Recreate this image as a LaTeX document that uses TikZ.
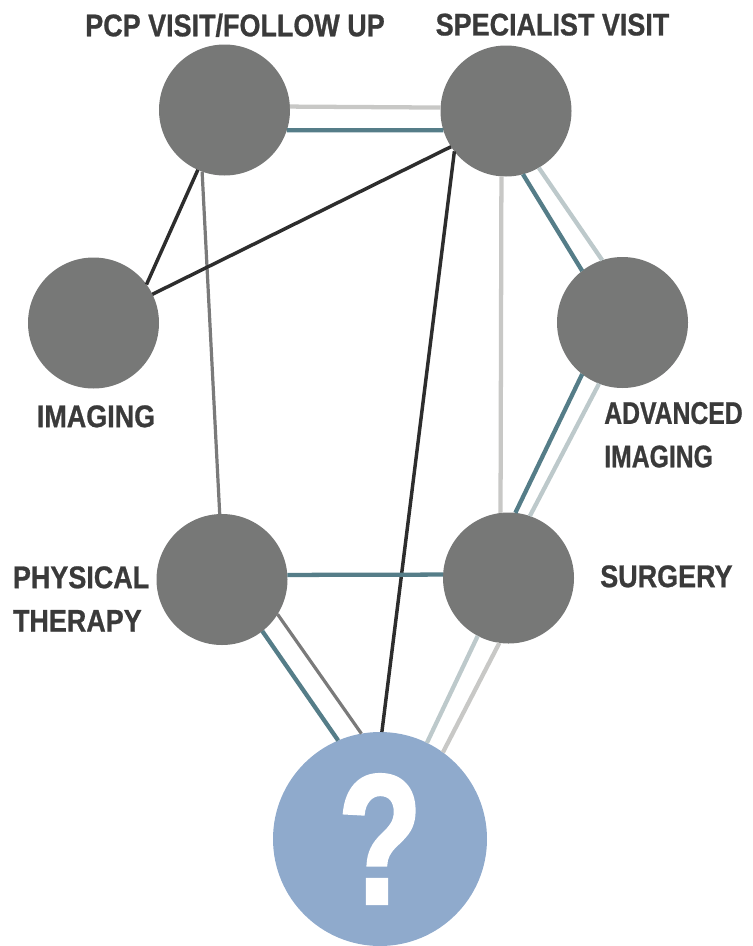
\documentclass[tikz,border=0pt]{standalone}
\usepackage{fontspec}
\newfontfamily\labelfont[FakeStretch=0.86,FakeBold=0.8,UprightFont={* Bold}]{Liberation Sans}
\newfontfamily\narrowfont[FakeStretch=0.79,FakeBold=0.8,UprightFont={* Bold}]{Liberation Sans}
\newfontfamily\markfont[FakeStretch=0.745,FakeBold=1.5,UprightFont={* Bold}]{Liberation Sans}
\usetikzlibrary{positioning}

\definecolor{stopgray}{HTML}{777877}
\definecolor{askblue}{HTML}{8FAACC}
\definecolor{labelgray}{HTML}{3A3A3A}
\definecolor{tealline}{HTML}{557D88}
\definecolor{paleline}{HTML}{C8C8C6}
\definecolor{coolline}{HTML}{BDC9CB}
\definecolor{darkline}{HTML}{2D2D2D}
\definecolor{midline}{HTML}{7A7A7A}

\begin{document}
\begin{tikzpicture}[x=0.75pt, y=-0.75pt,
  visit/.style={circle, fill=stopgray, minimum size=98.25pt,
                inner sep=0pt, outer sep=0pt},
  unknown/.style={circle, fill=askblue, minimum size=160.5pt,
                  inner sep=0pt, outer sep=0pt, text=white,
                  font=\markfont\fontsize{139}{139}\selectfont},
  lbl/.style={inner sep=0pt, text=labelgray, align=left,
              font=\labelfont\fontsize{23.5}{32.6}\selectfont},
  tealpath/.style={draw=tealline, line width=3.2pt},
  palepath/.style={draw=paleline, line width=3.2pt},
  coolpath/.style={draw=coolline, line width=3.2pt},
  darkpath/.style={draw=darkline, line width=2.6pt},
  greypath/.style={draw=midline, line width=2.4pt}]
  \useasboundingbox (0,0) rectangle (753,946);

  % care steps
  \node (pcp)  [visit] at (224.5,110) {};
  \node (spec) [visit] at (506,111) {};
  \node (img)  [visit] at (93.5,323) {};
  \node (adv)  [visit] at (622.5,322.5) {};
  \node (pt)   [visit] at (222,579.5) {};
  \node (surg) [visit] at (508.5,578) {};
  \node (ask)  [unknown] at (380,839) {?};

  % labels
  \node (pcplbl)  [lbl, anchor=north] at (235,13.3) {PCP VISIT/FOLLOW UP};
  \node (speclbl) [lbl, anchor=north] at (552.5,13.3) {SPECIALIST VISIT};
  \node (imglbl)  [lbl, anchor=north] at (96,405) {IMAGING};
  \node (advlbl)  [lbl, anchor=north west, font=\narrowfont\fontsize{23.5}{32.6}\selectfont]
    at (604,401.7) {ADVANCED\\IMAGING};
  \node (ptlbl)   [lbl, anchor=north west] at (12.7,566) {PHYSICAL\\THERAPY};
  \node (surglbl) [lbl, anchor=north west] at (600,565) {SURGERY};

  % paths between steps
  \draw[palepath] (pcp.3) -- (spec.177);
  \draw[tealpath] (pcp.-18) -- (spec.197);
  \draw[darkpath] (pcp.-114) -- (img.36);
  \draw[greypath] (pcp.-110) -- (pt.92);
  \draw[darkpath] (spec.213) -- (img.26);
  \draw[darkpath] (spec.218) -- (ask.89);
  \draw[palepath] (spec.-94) -- (surg.97);
  \draw[tealpath] (spec.-75) -- (adv.128);
  \draw[coolpath] (spec.-60) -- (adv.108);
  \draw[tealpath] (adv.232) -- (surg.84);
  \draw[coolpath] (adv.249) -- (surg.71);
  \draw[tealpath] (pt.4) -- (surg.177);
  \draw[tealpath] (pt.-52) -- (ask.113);
  \draw[greypath] (pt.-32) -- (ask.100);
  \draw[coolpath] (surg.242) -- (ask.64);
  \draw[palepath] (surg.262) -- (ask.54);
\end{tikzpicture}
\end{document}
